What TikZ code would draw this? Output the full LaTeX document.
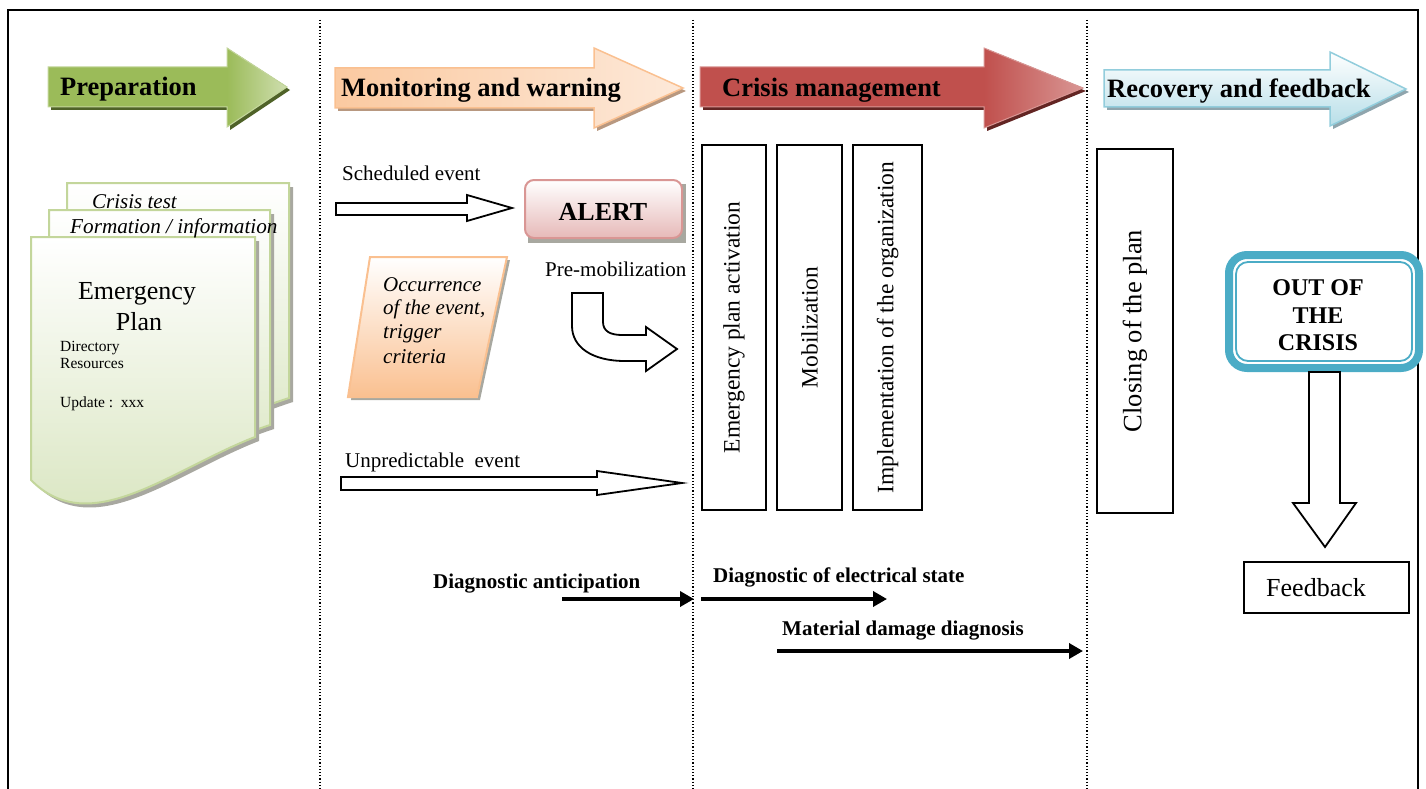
\documentclass[tikz,border=0pt]{standalone}
\usepackage{fontspec}
\setmainfont{Liberation Serif}
\usetikzlibrary{arrows.meta}
\definecolor{grA}{HTML}{9BBB59}
\definecolor{grB}{HTML}{C3D69B}
\definecolor{grC}{HTML}{D7E4BD}
\definecolor{grS}{HTML}{4F6228}
\definecolor{orA}{HTML}{FAC090}
\definecolor{orB}{HTML}{FDE9D9}
\definecolor{orS}{HTML}{B89880}
\definecolor{rdA}{HTML}{C0504D}
\definecolor{rdB}{HTML}{D99694}
\definecolor{rdC}{HTML}{E6B9B8}
\definecolor{rdS}{HTML}{632523}
\definecolor{blA}{HTML}{B7DEE8}
\definecolor{blB}{HTML}{92CDDC}
\definecolor{blS}{HTML}{8FA5AD}
\definecolor{tealbox}{HTML}{4BACC6}
\definecolor{shd}{HTML}{A8A8A0}
\begin{document}
\begin{tikzpicture}[x=1pt,y=-1pt,
 lbl/.style={inner sep=0pt, anchor=base west, font=\fontsize{21}{25}\selectfont},
 hdr/.style={inner sep=0pt, anchor=base west, font=\bfseries\fontsize{26.5}{30}\selectfont},
 blk/.style={draw=black, line width=1.8pt, fill=white, line join=miter},
 vbox/.style={draw=black, line width=2pt},
 vtxt/.style={rotate=90, inner sep=0pt, font=\fontsize{23.5}{28}\selectfont},
 diag/.style={line width=3.6pt, -{Triangle[length=14pt,width=15pt]}},
 dtxt/.style={inner sep=0pt, anchor=base west, font=\bfseries\fontsize{21}{25}\selectfont},
 page/.style={top color=white, bottom color=grC, draw=grB, line width=2pt},
 pageshadow/.style={fill=shd}
]
\useasboundingbox (0,0) rectangle (1426,789);
% frame
\draw[line width=2.5pt] (8,789) -- (8,10) -- (1418,10) -- (1418,789);
% dotted separators
\foreach \xx in {320,693,1087}
  \draw[dotted, line width=1.2pt] (\xx,20) -- (\xx,789);

% header arrows
\fill[grS] ([shift={(3,3)}]48,67) -- ++(179,0) -- ++(0,-19) -- ++(60,39) -- ++(-60,40) -- ++(0,-20) -- ++(-179,0) -- cycle;
\fill[grA] (48,67) -- (227,67) -- (227,48) -- (287,87) -- (227,127) -- (227,107) -- (48,107) -- cycle;
\fill[left color=grA, right color=grB!80!white] (227,48) -- (287,87) -- (227,127) -- cycle;
\draw[grB, line width=1pt] (48,67) -- (227,67) -- (227,48) -- (287,87) -- (227,127) -- (227,107) -- (48,107) -- cycle;
\node[hdr] (hprep) at (60,96) {Preparation};

\fill[orS] ([shift={(3,3)}]335,68) -- ++(259,0) -- ++(0,-20) -- ++(89,40) -- ++(-89,40) -- ++(0,-20) -- ++(-259,0) -- cycle;
\path[left color=orA!85!white, right color=orB, draw=orA, line width=1.5pt] (335,68) -- (594,68) -- (594,48) -- (683,88) -- (594,128) -- (594,108) -- (335,108) -- cycle;
\node[hdr] (hmon) at (341,97) {Monitoring and warning};

\fill[rdS] ([shift={(3,3)}]700,67) -- ++(284,0) -- ++(0,-19) -- ++(99,40) -- ++(-99,40) -- ++(0,-21) -- ++(-284,0) -- cycle;
\fill[rdA] (700,67) -- (984,67) -- (984,48) -- (1083,88) -- (984,128) -- (984,107) -- (700,107) -- cycle;
\fill[left color=rdA, right color=rdB] (984,48) -- (1083,88) -- (984,128) -- cycle;
\draw[rdB, line width=1pt] (700,67) -- (984,67) -- (984,48) -- (1083,88) -- (984,128) -- (984,107) -- (700,107) -- cycle;
\node[hdr] (hcri) at (722,97) {Crisis management};

\fill[blS] ([shift={(3,3)}]1104,70) -- ++(226,0) -- ++(0,-18) -- ++(76,37) -- ++(-76,37) -- ++(0,-19) -- ++(-226,0) -- cycle;
\path[top color=white, bottom color=blA, draw=blB, line width=1.5pt] (1104,70) -- (1330,70) -- (1330,52) -- (1406,89) -- (1330,126) -- (1330,107) -- (1104,107) -- cycle;
\node[hdr] (hrec) at (1107,98) {Recovery and feedback};

% documents
\fill[pageshadow] ([shift={(4,4)}]67,183) -- ++(222,0) -- ++(0,215) .. controls ++(-99,32) and ++(63,40) .. ++(-222,42) -- cycle;
\path[page] (67,183) -- (289,183) -- (289,398) .. controls (190,430) and (130,480) .. (67,440) -- cycle;
\fill[pageshadow] ([shift={(4,4)}]49,210) -- ++(221,0) -- ++(0,215) .. controls ++(-90,30) and ++(61,40) .. ++(-221,40) -- cycle;
\path[page] (49,210) -- (270,210) -- (270,425) .. controls (180,455) and (110,505) .. (49,465) -- cycle;
\fill[pageshadow] ([shift={(4,4)}]31,237) -- ++(224,0) -- ++(0,200) .. controls ++(-85,33) and ++(59,60) .. ++(-224,43) -- cycle;
\path[page] (31,237) -- (255,237) -- (255,437) .. controls (170,470) and (90,540) .. (31,480) -- cycle;
\node[lbl, font=\itshape\fontsize{21}{25}\selectfont] (ctest) at (92,208) {Crisis test};
\node[lbl, font=\itshape\fontsize{21.2}{25}\selectfont] (form) at (70,233) {Formation / information};
\node[inner sep=0pt, anchor=base, font=\fontsize{26}{30}\selectfont] (emer) at (137,299) {Emergency};
\node[inner sep=0pt, anchor=base, font=\fontsize{26}{30}\selectfont] (plan) at (139,330) {Plan};
\node[lbl, font=\fontsize{15.5}{18}\selectfont] (dir) at (60,351) {Directory};
\node[lbl, font=\fontsize{15.5}{18}\selectfont] (res) at (60,368) {Resources};
\node[lbl, font=\fontsize{15.5}{18}\selectfont] (upd) at (60,407) {Update :\ \ xxx};

% monitoring column
\node[lbl] (sched) at (342,180) {Scheduled event};
\draw[blk] (336,203) -- (467,203) -- (467,195) -- (512,208) -- (467,221) -- (467,215) -- (336,215) -- cycle;
\fill[shd] (528,184) rectangle (686,243);
\path[top color=white, bottom color=rdC, draw=rdB, line width=2pt, rounded corners=9pt] (525,180) rectangle (682,238);
\node[inner sep=0pt, anchor=base, font=\bfseries\fontsize{26}{30}\selectfont] (alert) at (603,220) {ALERT};

\fill[shd] (373,260) -- (510,260) -- (480,400) -- (351,400) -- cycle;
\path[top color=white, bottom color=orA, draw=orA, line width=2pt] (370,257) -- (507,257) -- (477,397) -- (348,397) -- cycle;
\node[lbl, font=\itshape\fontsize{21}{25}\selectfont] (occ1) at (383,291) {Occurrence};
\node[lbl, font=\itshape\fontsize{21}{25}\selectfont] (occ2) at (383,314) {of the event,};
\node[lbl, font=\itshape\fontsize{21}{25}\selectfont] (occ3) at (383,338) {trigger};
\node[lbl, font=\itshape\fontsize{21}{25}\selectfont] (occ4) at (383,363) {criteria};

\node[lbl] (premob) at (545,276) {Pre-mobilization};
\draw[blk] (572,293) -- (603,293) -- (603,322) .. controls (603,331) and (610,335) .. (622,335) -- (646,335) -- (646,327) -- (677,349) -- (646,371) -- (646,361) -- (625,361) .. controls (592,361) and (572,347) .. (572,326) -- cycle;

\node[lbl] (unpred) at (345,467) {Unpredictable\ \ event};
\draw[blk] (341,477) -- (597,477) -- (597,471) -- (682,483) -- (597,495) -- (597,490) -- (341,490) -- cycle;

% crisis management column
\draw[vbox] (702,145) rectangle (766,510);
\node[vtxt] (t1) at (734,327.5) {Emergency plan activation};
\draw[vbox] (777,145) rectangle (842,510);
\node[vtxt] (t2) at (809.5,327.5) {Mobilization};
\draw[vbox] (853,145) rectangle (922,510);
\node[vtxt] (t3) at (887.5,327.5) {Implementation of the organization};

% recovery column
\draw[vbox] (1097,149) rectangle (1173,513);
\node[vtxt, font=\fontsize{26.5}{30}\selectfont] (t4) at (1135,331) {Closing of the plan};

\draw[tealbox, line width=8pt, fill=white, rounded corners=18pt] (1229,255) rectangle (1419,368);
\draw[tealbox, line width=1.8pt, rounded corners=12pt] (1236,262) rectangle (1412,361);
\node[inner sep=0pt, anchor=base, font=\bfseries\fontsize{24}{28}\selectfont] (out1) at (1318,295) {OUT OF};
\node[inner sep=0pt, anchor=base, font=\bfseries\fontsize{24}{28}\selectfont] (out2) at (1318,323) {THE};
\node[inner sep=0pt, anchor=base, font=\bfseries\fontsize{24}{28}\selectfont] (out3) at (1318,350) {CRISIS};

\draw[blk] (1309,372) -- (1340,372) -- (1340,503) -- (1356,503) -- (1325,547) -- (1293,503) -- (1309,503) -- cycle;
\draw[line width=1.8pt] (1244,562) rectangle (1409,613);
\node[inner sep=0pt, anchor=base, font=\fontsize{26}{30}\selectfont] (feed) at (1316,596) {Feedback};

% diagnostics
\node[dtxt] (dg1) at (433,588) {Diagnostic anticipation};
\node[dtxt] (dg2) at (713,582) {Diagnostic of electrical state};
\node[dtxt] (dg3) at (782,635) {Material damage diagnosis};
\coordinate (a1s) at (562,599);
\coordinate (a1e) at (694,599);
\coordinate (a2s) at (701,599);
\coordinate (a2e) at (887,599);
\coordinate (a3s) at (777,651);
\coordinate (a3e) at (1083,651);
\draw[diag] (a1s) -- (a1e);
\draw[diag] (a2s) -- (a2e);
\draw[diag] (a3s) -- (a3e);
\end{tikzpicture}
\end{document}
